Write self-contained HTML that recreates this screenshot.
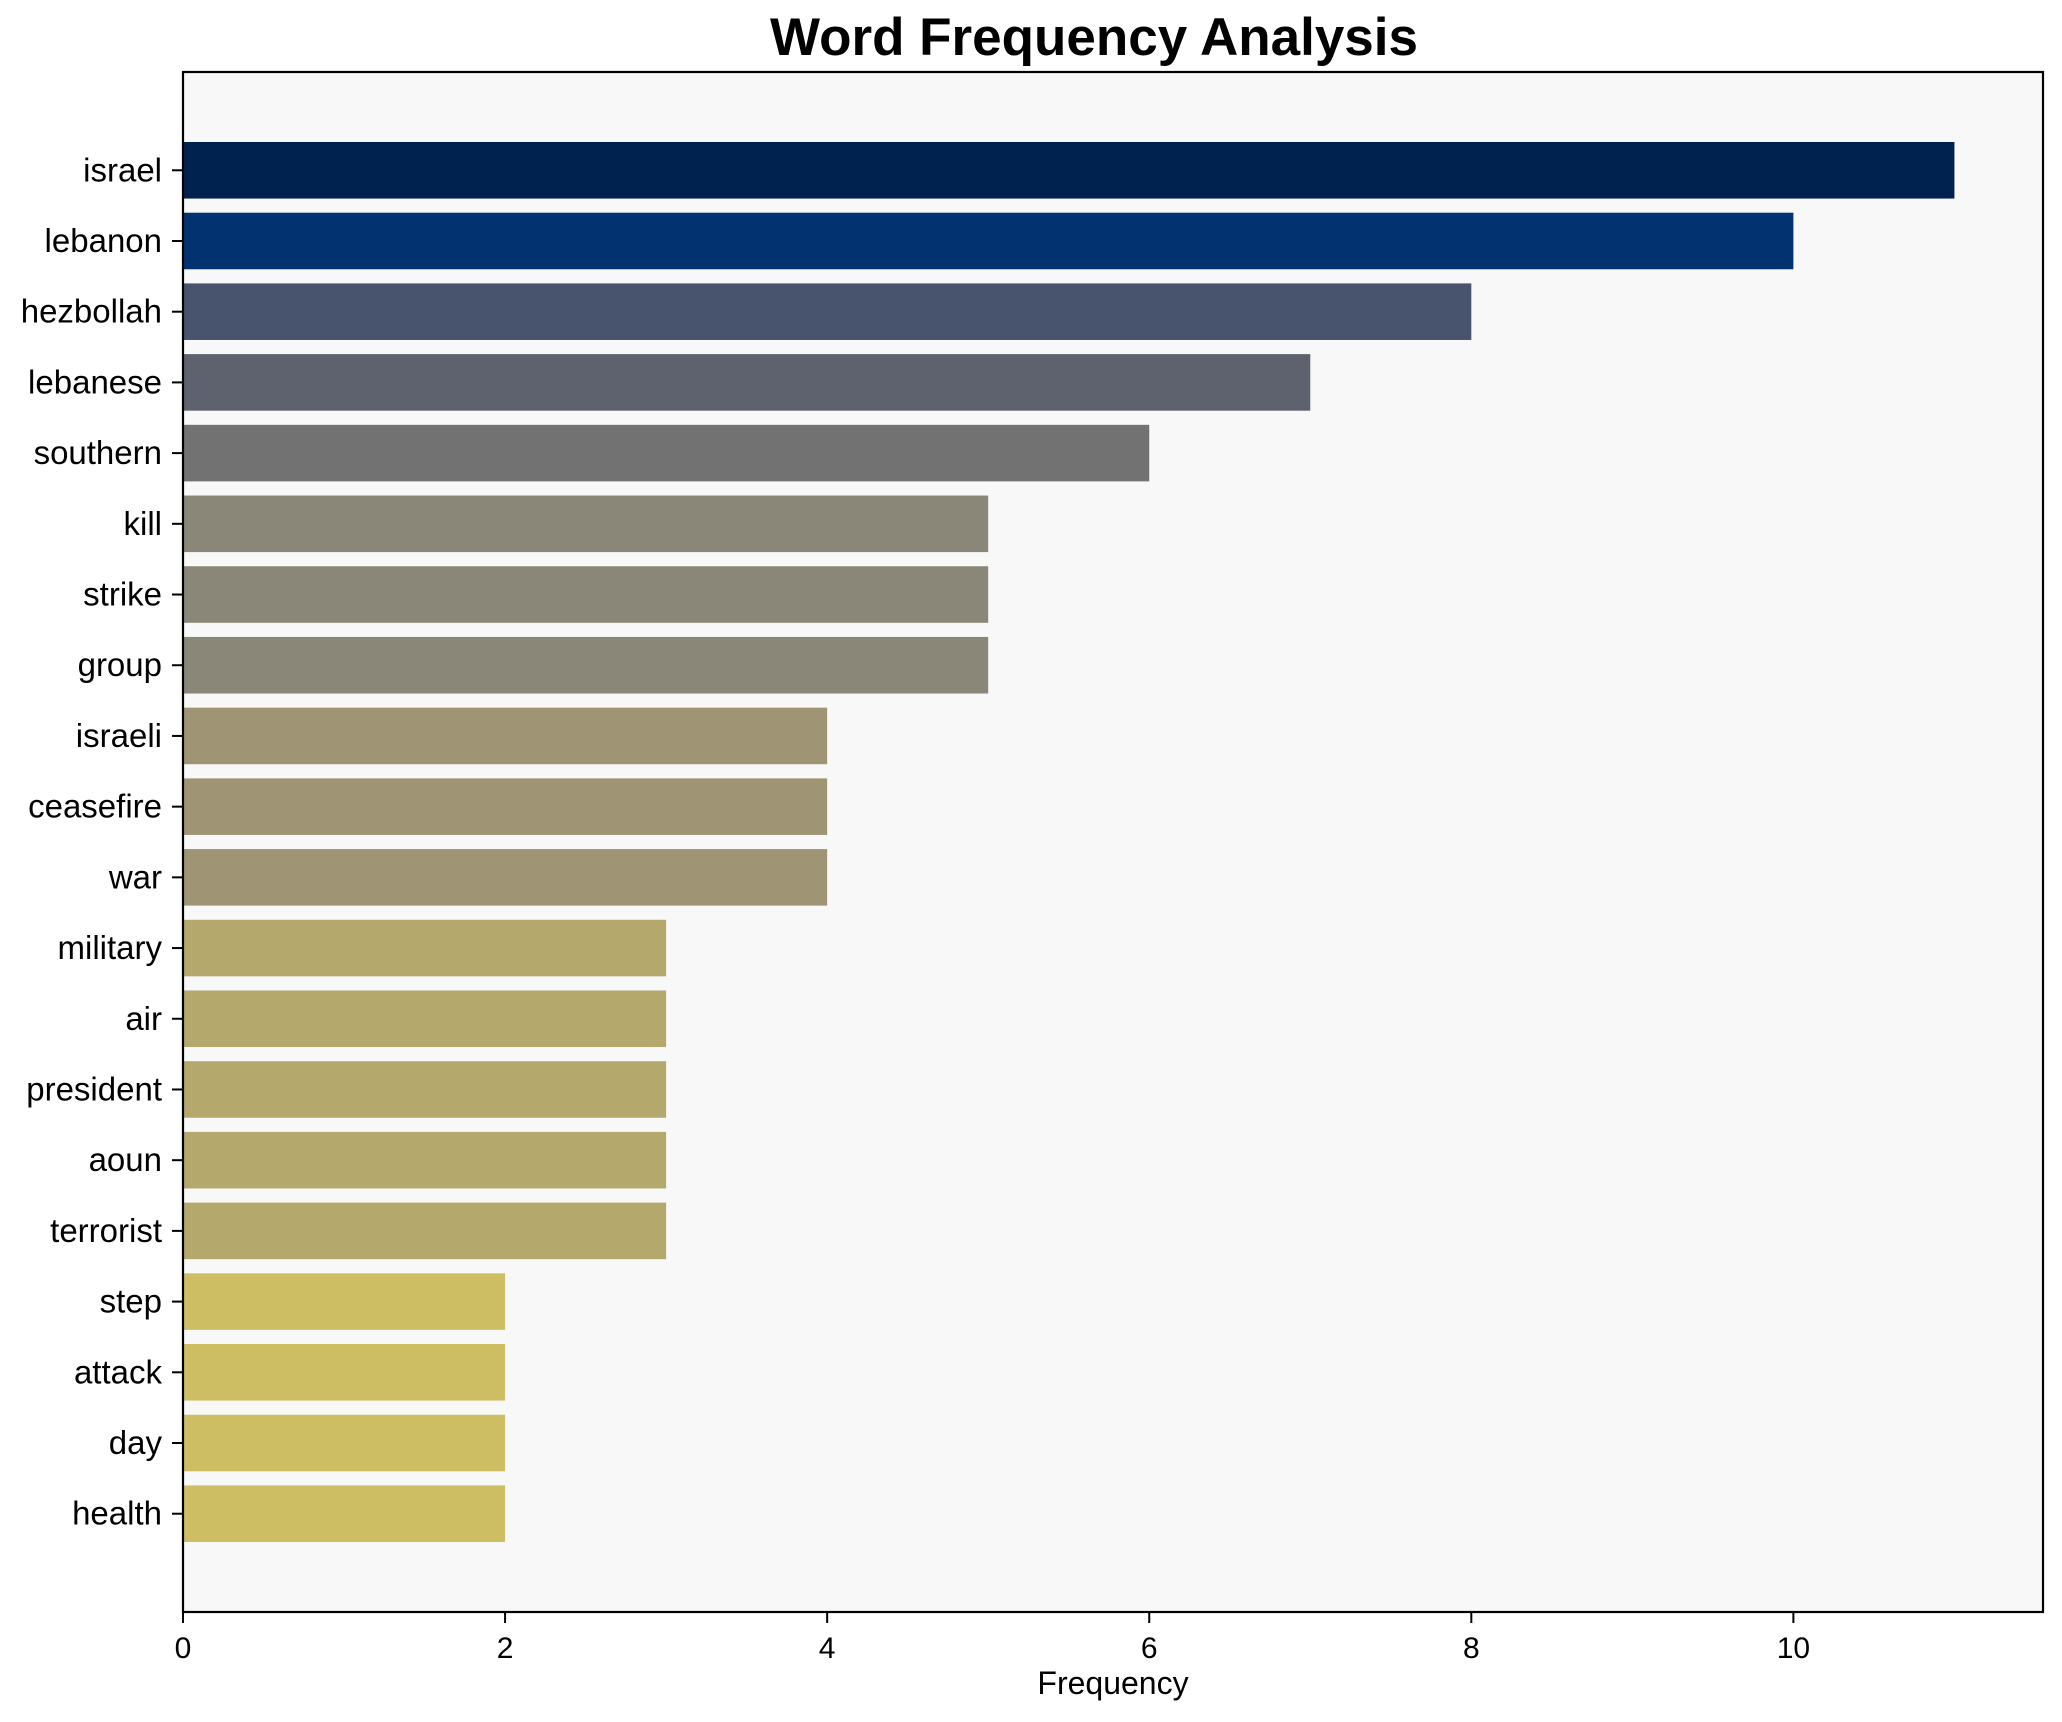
<!DOCTYPE html>
<html><head><meta charset="utf-8"><style>
body{margin:0;background:#fff;}
svg{display:block;font-family:"Liberation Sans",sans-serif;}
</style></head><body>
<svg id="chart" width="2062" height="1722">
<rect x="183" y="72" width="1860" height="1540" fill="#f8f8f8"/>
<g id="bars"></g>
<g id="yticks"></g>
<g id="xticks"></g>
<rect x="183" y="72" width="1860" height="1540" fill="none" stroke="#000" stroke-width="2.2"/>
<text x="1094" y="55" text-anchor="middle" font-size="53" font-weight="bold">Word Frequency Analysis</text>
<text x="1113" y="1694" text-anchor="middle" font-size="32">Frequency</text>
</svg>
<script>
const words = ["israel","lebanon","hezbollah","lebanese","southern","kill","strike","group","israeli","ceasefire","war","military","air","president","aoun","terrorist","step","attack","day","health"];
const freqs = [11,10,8,7,6,5,5,5,4,4,4,3,3,3,3,3,2,2,2,2];
const colors = ["#00224e","#023370","#48536d","#5d626e","#727272","#8a8779","#8a8779","#8a8779","#9f9575","#9f9575","#9f9575","#b5a86c","#b5a86c","#b5a86c","#b5a86c","#b5a86c","#cdbd63","#cdbd63","#cdbd63","#cdbd63"];
const xTicks = [0,2,4,6,8,10];
const L=183,R=2043,T=72,B=1612,XMAX=11.55,YMIN=-1.39,YMAX=20.39;
const xs=v=>L+v/XMAX*(R-L);
const ys=i=>T+(i-YMIN)/(YMAX-YMIN)*(B-T);
const bh=0.8*(B-T)/(YMAX-YMIN);
const NS="http://www.w3.org/2000/svg";
const bars=document.getElementById('bars'),yt=document.getElementById('yticks'),xt=document.getElementById('xticks');
words.forEach((w,i)=>{
  const r=document.createElementNS(NS,'rect');
  r.setAttribute('x',xs(0));r.setAttribute('y',ys(i)-bh/2);
  r.setAttribute('width',xs(freqs[i])-xs(0));r.setAttribute('height',bh);
  r.setAttribute('fill',colors[i]);
  
  
  bars.appendChild(r);
  const l=document.createElementNS(NS,'line');
  l.setAttribute('x1',L-11);l.setAttribute('x2',L);l.setAttribute('y1',ys(i));l.setAttribute('y2',ys(i));
  l.setAttribute('stroke','#000');l.setAttribute('stroke-width','2');
  
  
  yt.appendChild(l);
  const t=document.createElementNS(NS,'text');
  t.setAttribute('x',L-21);t.setAttribute('y',ys(i)+11);t.setAttribute('text-anchor','end');t.setAttribute('font-size','33');
  t.textContent=w;
  
  
  yt.appendChild(t);
});
xTicks.forEach(v=>{
  const l=document.createElementNS(NS,'line');
  l.setAttribute('x1',xs(v));l.setAttribute('x2',xs(v));l.setAttribute('y1',B);l.setAttribute('y2',B+11);
  l.setAttribute('stroke','#000');l.setAttribute('stroke-width','2');
  
  
  xt.appendChild(l);
  const t=document.createElementNS(NS,'text');
  t.setAttribute('x',xs(v));t.setAttribute('y',B+46);t.setAttribute('text-anchor','middle');t.setAttribute('font-size','30');
  t.textContent=v;
  
  
  xt.appendChild(t);
});
</script>
</body></html>
